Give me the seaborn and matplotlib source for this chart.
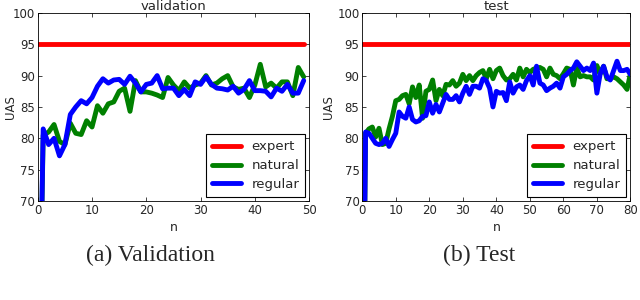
import numpy as np
import pandas as pd
import seaborn as sns
import matplotlib.pyplot as plt

# validation curves (n = 0..49)
val_natural = [30, 80.5, 81, 82.2, 79.5, 79, 82.4, 80.8, 80.6, 82.8,
               81.8, 85.2, 84, 85.5, 85.8, 87.5, 88, 84.3, 89.2, 87.4,
               87.4, 87.2, 86.9, 86.5, 89.7, 88.5, 87.6, 89, 88, 88.5,
               88.8, 90, 88.5, 88.8, 89.5, 90, 88.2, 87.8, 88, 86.5,
               88.5, 91.8, 88.2, 88.8, 88, 89, 89, 86.8, 91.3, 89.8]
val_regular = [30, 81.5, 79, 80, 77.2, 79, 83.8, 85, 86, 85.5,
               86.5, 88.3, 89.5, 88.8, 89.3, 89.4, 88.6, 89.9, 88.8, 87.4,
               88.6, 88.8, 90, 87.9, 88, 88, 86.8, 87.8, 86.8, 89,
               88.6, 89.8, 88.6, 88, 87.9, 87.7, 88.3, 87.2, 87.8, 89.2,
               87.6, 87.6, 87.5, 86.6, 88, 87.5, 88.6, 87.2, 87.2, 89.2]

# test curves (n = 0..80)
test_natural = [30, 80.8, 81.5, 81.8, 80.2, 81.6, 79, 79.2, 81.5, 83.5,
                86, 86.2, 86.8, 87, 85.5, 88.2, 86.5, 88.5, 83.2, 87.5,
                87.8, 89.3, 86, 87.8, 86.8, 88.6, 88.5, 89.2, 88.3, 88.8,
                90.2, 89.2, 90, 89.2, 90, 90.5, 90.8, 89.5, 91, 89.5,
                90.8, 91.2, 90, 89.3, 89.5, 90.2, 89.3, 91.2, 89.8, 91,
                90.5, 91, 91.2, 91.3, 91, 89.8, 91.2, 90.2, 90, 89.5,
                90.3, 91.2, 91, 88.5, 91.2, 89.8, 90, 89.8, 89.8, 89.3,
                91.6, 90.3, 91.5, 89.5, 89.5, 89.8, 89.5, 89, 88.5, 87.8,
                90.3]
test_regular = [30, 81, 80.8, 80, 79.2, 79, 79.2, 80, 78.7, 79.8,
                80.8, 84.2, 83.5, 83.2, 85, 83, 82.6, 82.8, 83.5, 83.6,
                85.8, 84, 85.4, 84.2, 85.6, 87, 86.2, 86.2, 86.8, 85.8,
                87.2, 88.3, 87, 88.3, 88.3, 88, 89.5, 89.2, 88, 85,
                87.5, 87.2, 87.3, 86, 89, 87.2, 88.2, 88.5, 87.8, 89.2,
                90, 88.5, 91.5, 88.8, 88.5, 87.6, 88, 88.3, 88.8, 88,
                89.8, 90.2, 90.8, 91.2, 92.2, 91.5, 90.8, 91.2, 90.8, 92,
                87.2, 90.3, 91.5, 89.8, 89.3, 90.8, 92.3, 90.8, 90.8, 91,
                90.2]
expert = 95

sns.set_style('ticks')
plt.rcParams['font.family'] = ['DejaVu Sans']
plt.rcParams['xtick.direction'] = 'in'
plt.rcParams['ytick.direction'] = 'in'
plt.rcParams['xtick.top'] = True
plt.rcParams['ytick.right'] = True

palette = {'expert': '#ff0000', 'natural': '#008000', 'regular': '#0000ff'}

fig = plt.figure(figsize=(6.4, 3.0), dpi=100)
ax1 = fig.add_axes([0.059, 0.33, 0.424, 0.627])
ax2 = fig.add_axes([0.566, 0.33, 0.419, 0.627])

def make_df(natural, regular):
    n = np.arange(len(natural))
    return pd.concat([
        pd.DataFrame({'n': n, 'UAS': expert, 'method': 'expert'}),
        pd.DataFrame({'n': n, 'UAS': natural, 'method': 'natural'}),
        pd.DataFrame({'n': n, 'UAS': regular, 'method': 'regular'}),
    ])

for ax, nat, reg, title, xmax, xt, lx in [
        (ax1, val_natural, val_regular, 'validation', 50, range(0, 51, 10), -0.075),
        (ax2, test_natural, test_regular, 'test', 80, range(0, 81, 10), -0.1)]:
    df = make_df(nat, reg)
    sns.lineplot(data=df, x='n', y='UAS', hue='method', palette=palette,
                 linewidth=3.5, ax=ax)
    ax.set_xlim(0, xmax)
    ax.set_ylim(70, 100)
    ax.set_xticks(list(xt))
    ax.set_yticks(range(70, 101, 5))
    ax.tick_params(labelsize=8.5, length=3, width=0.6, pad=2)
    ax.set_title(title, fontsize=9.5, pad=2)
    ax.set_xlabel('n', fontsize=9, labelpad=3)
    ax.set_ylabel('UAS', fontsize=8.5)
    ax.yaxis.set_label_coords(lx, 0.5)
    for s in ax.spines.values():
        s.set_linewidth(0.6)
        s.set_color('black')
    leg = ax.legend(loc='lower right', fontsize=9.5, frameon=True,
                    fancybox=False, handlelength=2.2, borderpad=0.45,
                    labelspacing=0.45, handletextpad=0.8, borderaxespad=0.3)
    leg.get_frame().set_edgecolor('black')
    leg.get_frame().set_linewidth(0.8)
    leg.get_frame().set_alpha(1)

fig.text(0.235, 0.15, '(a) Validation', fontsize=17, ha='center', va='center',
         family='Liberation Serif')
fig.text(0.748, 0.15, '(b) Test', fontsize=17, ha='center', va='center',
         family='Liberation Serif')

fig.savefig('out.png', dpi=100)
